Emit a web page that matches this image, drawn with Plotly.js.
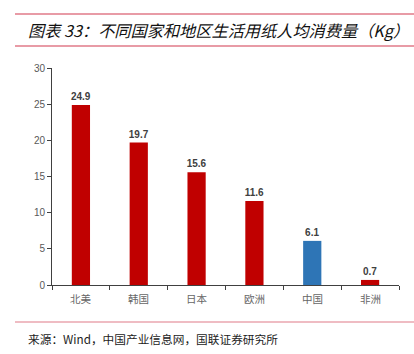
<!DOCTYPE html>
<html><head><meta charset="utf-8">
<script src="https://cdn.plot.ly/plotly-3.0.1.min.js"></script>
<style>html,body{margin:0;padding:0;background:#fff}#c{width:414px;height:354px}</style>
</head><body><div id="c"></div>
<script>
const categories = ['北美','韩国','日本','欧洲','中国','非洲'];
const values = [24.9, 19.7, 15.6, 11.6, 6.1, 0.7];
const colors = ['#c00000','#c00000','#c00000','#c00000','#2e75b6','#c00000'];
const yTicks = [0,5,10,15,20,25,30];

const L=52, R=15, T=68, B=69, W=414, H=354;
const pw=W-L-R, ph=H-T-B;
const px = x => (x-L)/pw;
const py = y => (H-B-y)/ph;
const lineColor = '#e07a88';

const trace = {
  type:'bar', x:categories, y:values,
  marker:{color:colors},
  text:values.map(v=>v.toFixed(1)), textposition:'outside', cliponaxis:false, constraintext:'none',
  textfont:{family:'Liberation Sans, Arial, sans-serif', size:10, color:'#404040', weight:'bold'},
  hoverinfo:'none'
};
const layout = {
  width:W, height:H, margin:{l:L,r:R,t:T,b:B},
  paper_bgcolor:'#fff', plot_bgcolor:'#fff', showlegend:false,
  bargap:0.685,
  xaxis:{showline:true, linecolor:'#404040', linewidth:1, ticks:'outside', ticklen:4, tickcolor:'#404040',
    tickmode:'array', tickvals:[-0.5,0.5,1.5,2.5,3.5,4.5,5.5], ticktext:['','','','','','',''],
    range:[-0.5,5.5], fixedrange:true, showgrid:false, zeroline:false},
  yaxis:{range:[0,30], tickvals:yTicks, showline:true, linecolor:'#404040', linewidth:1, ticks:'outside', ticklen:4,
    tickcolor:'#404040', showgrid:false, zeroline:false,
    tickfont:{family:'Liberation Sans, Arial, sans-serif', size:10, color:'#595959'}},
  annotations:[
    {text:'图表 33：不同国家和地区生活用纸人均消费量（Kg）', xref:'paper', yref:'paper', x:px(26), y:py(30),
     xanchor:'left', yanchor:'middle', showarrow:false,
     font:{family:'Noto Sans CJK SC', size:16.2, color:'#111', style:'italic'}},
    {text:'来源：Wind，中国产业信息网，国联证券研究所', xref:'paper', yref:'paper', x:px(26), y:py(338),
     xanchor:'left', yanchor:'middle', showarrow:false,
     font:{family:'Noto Sans CJK SC', size:11.7, color:'#222'}}
  ].concat(categories.map((c,i)=>({text:c, xref:'x', yref:'paper', x:i, y:py(298), xanchor:'center', yanchor:'middle',
     showarrow:false, font:{family:'Noto Sans CJK SC', size:10.5, color:'#666'}}))),
  shapes:[
    {type:'line', xref:'paper', yref:'paper', x0:px(15), x1:px(414), y0:py(14), y1:py(14), line:{color:lineColor, width:1.5}},
    {type:'line', xref:'paper', yref:'paper', x0:px(15), x1:px(414), y0:py(46), y1:py(46), line:{color:lineColor, width:1.5}},
    {type:'line', xref:'paper', yref:'paper', x0:px(15), x1:px(414), y0:py(322), y1:py(322), line:{color:lineColor, width:1.2}}
  ]
};
Plotly.newPlot('c',[trace],layout,{displayModeBar:false,staticPlot:true});
</script></body></html>
